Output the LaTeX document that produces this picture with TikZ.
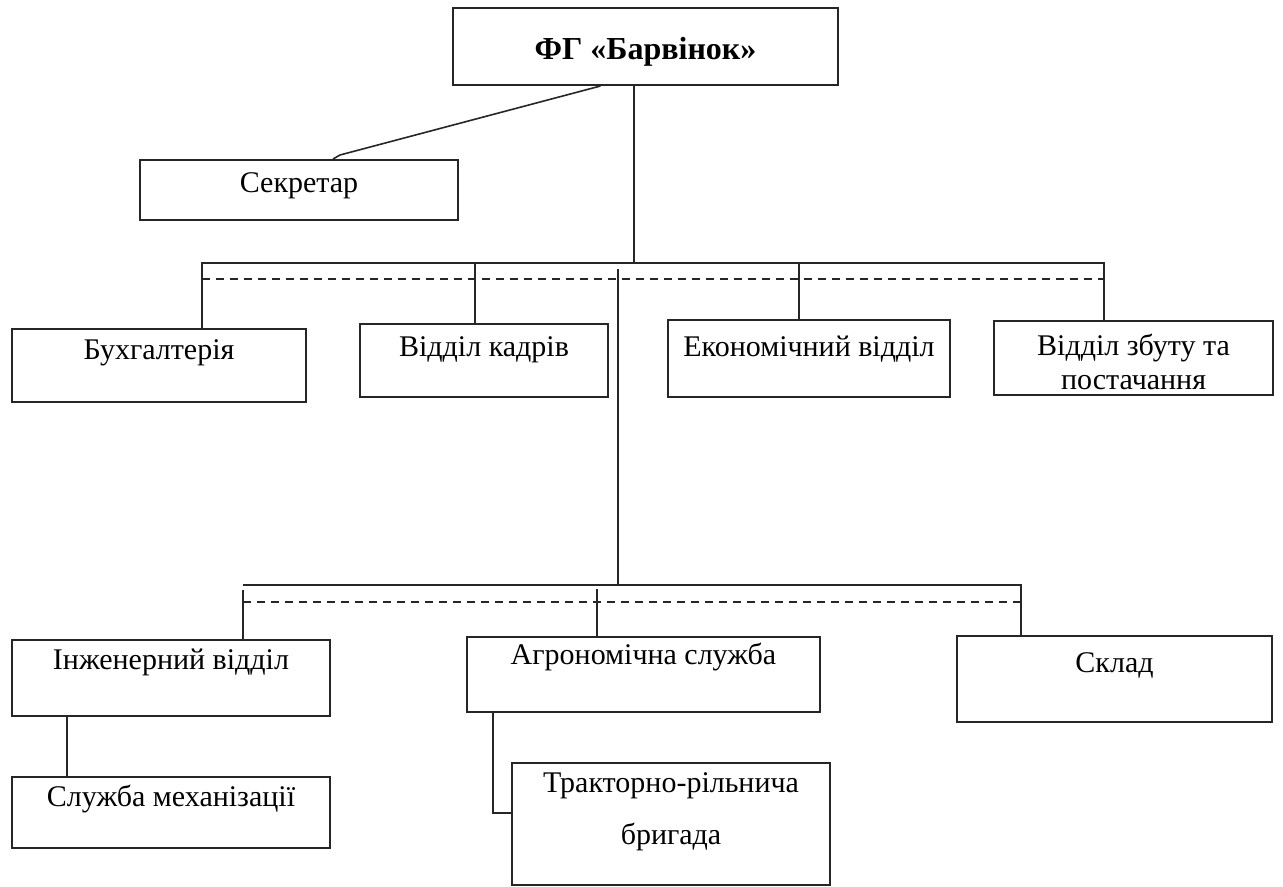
\documentclass[tikz,border=0pt]{standalone}
\usepackage{fontspec}
\setmainfont{Liberation Serif}
\usetikzlibrary{positioning,calc}

\begin{document}
\begin{tikzpicture}[x=0.5pt,y=-0.5pt,
        box/.style={draw=black!85, line width=1pt, align=center, inner sep=1pt,
            font=\fontsize{15}{18.5}\selectfont},
        lift/.style={text height=10pt, text depth=#1},
        link/.style={draw=black!85, line width=0.8pt},
        bus/.style={draw=black!85, line width=0.8pt, dash pattern=on 4pt off 3pt}]
                \useasboundingbox (0,0) rectangle (1283,887);
                \draw (645.5,46.5) node[box, text height=13pt, text depth=0pt, minimum width=192.5pt, minimum height=38.5pt,
                    font=\fontsize{16}{19}\selectfont\bfseries] (fg) {ФГ «Барвінок»};
                \draw (299,190) node[box, lift=7.2pt, minimum width=159pt, minimum height=30pt] (sec) {Секретар};
                \draw (159,365.5) node[box, lift=15.7pt, minimum width=147pt, minimum height=36.5pt] (buh) {Бухгалтерія};
                \draw (484,360.5) node[box, lift=13.7pt, minimum width=124pt, minimum height=36.5pt] (kadr) {Відділ кадрів};
                \draw (809,358.5) node[box, lift=11.7pt, minimum width=141pt, minimum height=38.5pt] (econ) {Економічний відділ};
                \draw (1133.5,358) node[box, inner ysep=0pt, text height=32pt, text depth=0.5pt, minimum width=139.5pt, minimum height=37pt,
                    font=\fontsize{15}{17}\selectfont] (zbut) {Відділ збуту та\\постачання};
                \draw (171,678) node[box, lift=18.2pt, minimum width=159pt, minimum height=38pt] (inzh) {Інженерний відділ};
                \draw (643.5,674.5) node[box, lift=19.7pt, minimum width=176.5pt, minimum height=37.5pt] (agro) {Агрономічна служба};
                \draw (1114.5,679) node[box, lift=16.2pt, minimum width=157.5pt, minimum height=43pt] (sklad) {Склад};
                \draw (171,812.5) node[box, lift=15.7pt, minimum width=159pt, minimum height=35.5pt] (mech) {Служба механізації};
                \draw (671,824) node[box, text depth=15pt, minimum width=159pt, minimum height=61pt,
                    font=\fontsize{15}{26}\selectfont] (trakt) {Тракторно-рільнича\\бригада};
                \coordinate (hub) at (634,263);
                \coordinate (tl) at (202,263);
                \coordinate (tr) at (1104,263);
                \coordinate (bl) at (243,585);
                \coordinate (br) at (1021,585);
                \coordinate (mid) at (618,585);
                \draw[link] ($(fg.south)+(-45,0)$) -- ($(sec.north)+(41,-4)$) -- ($(sec.north)+(34,0)$);
                \draw[link] (fg.south -| hub) -- (hub);
                \draw[link] (buh.north -| tl) |- (tr) -- (zbut.north -| tr);
                \draw[link] (kadr.north -| 475,0) -- (475,263);
                \draw[link] (econ.north -| 799,0) -- (799,263);
                \draw[bus] (202,279) -- (1104,279);
                \draw[link] (618,269) -- (mid);
                \draw[link] (bl) -- (br) -- (sklad.north -| br);
                \draw[bus] (243,602) -- (1021,602);
                \draw[link] (243,590) -- (inzh.north -| bl);
                \draw[link] (597,589) -- (agro.north -| 597,0);
                \draw[link] (inzh.south -| 67,0) -- (mech.north -| 67,0);
                \draw[link] (agro.south -| 493,0) |- ($(trakt.west)+(0,-11)$);
            \end{tikzpicture}
\end{document}
